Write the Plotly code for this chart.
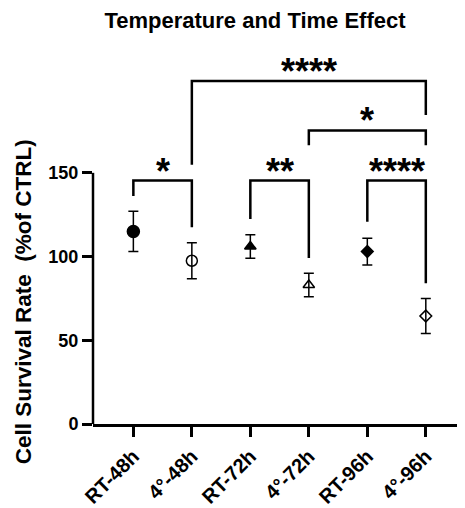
import plotly.graph_objects as go

categories = ["RT-48h", "4°-48h", "RT-72h", "4°-72h", "RT-96h", "4°-96h"]
means = [115, 97.5, 106, 83, 103, 64.5]
errors = [12, 10.8, 7, 7, 8, 10.5]
symbols = ["circle", "circle-open", "triangle-up", "triangle-up-open", "diamond", "diamond-open"]
msizes = [12, 11, 10, 10, 9, 9]

# significance brackets: (left idx, right idx, bar level, left leg end, right leg end, label)
br_left = [0, 2, 4, 3, 1]
br_right = [1, 3, 5, 5, 5]
br_level = [145.4, 145.4, 145.4, 175.3, 204.8]
br_left_end = [136.2, 122.4, 120.8, 166.5, 154.8]
br_right_end = [117.5, 99.2, 84.0, 166.5, 184.6]
br_label = ["*", "**", "****", "*", "****"]

W0, H0 = 465, 508
OFF = 8  # page body margin
W, H = W0 - OFF, H0 - OFF
ML, MR, MT, MB = 93 - OFF, 0, 64 - OFF, H - (428 - OFF)
PW, PH = W - ML - MR, H - MT - MB

fig = go.Figure()

for i, c in enumerate(categories):
    fig.add_trace(go.Scatter(
        x=[i], y=[means[i]], mode="markers",
        marker=dict(symbol=symbols[i], size=msizes[i], color="black",
                    line=dict(color="black", width=1.5)),
        error_y=dict(type="data", array=[errors[i]], color="black", thickness=1.5, width=5),
        showlegend=False, cliponaxis=False))

for l, r, lev, le, re, lab in zip(br_left, br_right, br_level, br_left_end, br_right_end, br_label):
    fig.add_shape(type="path", xref="x", yref="y",
                  path=f"M {l},{le} L {l},{lev} L {r},{lev} L {r},{re}",
                  line=dict(color="black", width=2.5))
    fig.add_annotation(x=(l + r) / 2, y=lev, xref="x", yref="y", text=f"<b>{lab}</b>",
                       showarrow=False, yanchor="bottom", yshift=-13,
                       font=dict(family="Liberation Sans, Arial", size=36, color="black"))

# y axis line only from 0 to 150
fig.add_shape(type="line", xref="paper", yref="y", x0=0, x1=0, y0=0, y1=150,
              line=dict(color="black", width=2.5))

fig.add_annotation(xref="paper", yref="paper",
                   x=(23 - OFF - ML) / PW, y=(H - MB - (305 - OFF)) / PH,
                   text="<b>Cell Survival Rate  (%of CTRL)</b>", textangle=-90, showarrow=False,
                   xanchor="center", yanchor="middle",
                   font=dict(family="Liberation Sans, Arial", size=22.5, color="black"))

fig.update_layout(
    width=W, height=H,
    margin=dict(l=ML, r=MR, t=MT, b=MB),
    plot_bgcolor="white", paper_bgcolor="white",
    title=dict(text="<b>Temperature and Time Effect</b>", x=(255 - OFF) / W, xanchor="center",
               y=1 - (20 - OFF) / H, yanchor="middle",
               font=dict(family="Liberation Sans, Arial", size=22, color="black")),
    xaxis=dict(range=[-0.69, 5.67], tickvals=list(range(len(categories))), ticktext=[f"<b>{c}</b>" for c in categories],
               tickangle=-45, ticks="outside", ticklen=10, tickwidth=2.5, tickcolor="black",
               showline=True, linewidth=2.5, linecolor="black", showgrid=False, zeroline=False,
               tickfont=dict(family="Liberation Sans, Arial", size=20, color="black")),
    yaxis=dict(range=[0, 215], tickvals=[0, 50, 100, 150], ticktext=["<b>0</b>", "<b>50</b>", "<b>100</b>", "<b>150</b>"],
               ticks="outside", ticklen=10, tickwidth=2.5, tickcolor="black",
               showline=False, showgrid=False, zeroline=False,
               tickfont=dict(family="Liberation Sans, Arial", size=18, color="black")),
)

fig.write_html("out.html")
